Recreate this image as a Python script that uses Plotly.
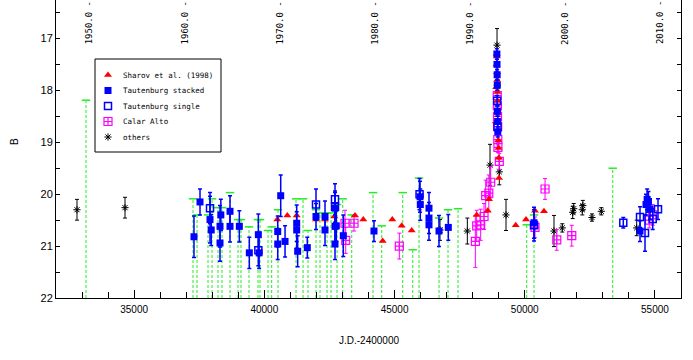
import plotly.graph_objects as go

# ---------------- data ----------------
# Upper limits (green dashed): JD-2400000, limiting B mag
lim_jd = [33152, 37261, 37415, 37837, 37991, 38221, 38375, 38682, 38989, 39104,
          39412, 39757, 39834, 40141, 40283, 40525, 41217, 41486, 41677, 41984,
          42138, 42407, 42561, 42791, 43010, 43356, 44174, 44508, 45314, 45699,
          45940, 46708, 47054, 47438, 50076, 50356, 53378]
lim_mag = [18.19, 20.09, 20.40, 20.40, 20.09, 20.26, 20.26, 19.97, 20.49, 20.49,
           20.63, 20.49, 20.49, 20.70, 20.63, 20.30, 20.09, 20.09, 20.70, 20.30,
           20.36, 20.36, 20.36, 20.20, 20.09, 20.40, 19.97, 20.61, 19.97, 21.07,
           19.69, 20.46, 20.30, 20.28, 20.59, 20.40, 19.50]

# Sharov et al. (1998)
sh_jd = [40499, 40883, 41243, 41984, 42330, 42688, 43482, 43800, 44545, 44914,
         45275, 45659, 45978, 48155, 48578, 48627,
         48890, 48905, 48915, 48922, 48928, 48935, 48942, 48950, 48958, 48966,
         48975, 48985, 48995, 49005, 49012,
         49652, 50048, 50394, 50739]
sh_mag = [20.49, 20.41, 20.41, 20.49, 20.49, 20.43, 20.41, 20.49, 20.90, 20.49,
          20.61, 20.70, 20.03, 20.40, 20.32, 20.10,
          18.60, 17.94, 17.50, 17.30, 17.35, 17.65, 17.80, 18.03, 18.20, 18.44,
          18.76, 18.96, 19.11, 19.30, 19.69,
          20.60, 20.49, 20.32, 20.33]

# Tautenburg stacked
ts_jd = [37299, 37530, 37914, 37960, 38298, 38298, 38330, 38682, 38682, 39040,
         39424, 39770, 39800, 40514, 40514, 40629, 40795, 41243, 41243, 41280,
         41650, 41984, 42330, 42330, 42714, 42714, 42714, 42764, 43032, 44211,
         45978, 45990, 46323, 46323, 46323, 46707, 47065,
         48930, 48935, 48940, 48945, 48952, 48960, 48965,
         50355, 54426, 54656, 54700, 54750, 54810]
ts_mag = [20.82, 20.15, 20.49, 20.69, 20.62, 20.94, 20.40, 20.33, 20.62, 20.62,
          21.13, 20.78, 21.13, 20.72, 20.96, 20.03, 20.91, 20.56, 20.69, 21.10,
          21.03, 20.43, 20.43, 20.69, 20.62, 20.96, 20.27, 20.61, 20.80, 20.71,
          20.05, 20.20, 20.27, 20.46, 20.59, 20.71, 20.64,
          17.30, 17.50, 17.70, 17.90, 18.40, 18.60, 18.80,
          20.55, 20.71, 20.20, 20.10, 20.15, 20.29]
ts_err = [0.40, 0.25, 0.45, 0.30, 0.40, 0.35, 0.30, 0.30, 0.30, 0.30,
          0.30, 0.40, 0.30, 0.30, 0.30, 0.40, 0.30, 0.35, 0.35, 0.30,
          0.20, 0.25, 0.30, 0.30, 0.35, 0.30, 0.30, 0.30, 0.40, 0.20,
          0.30, 0.30, 0.30, 0.30, 0.30, 0.30, 0.25,
          0.10, 0.10, 0.10, 0.10, 0.10, 0.10, 0.10,
          0.30, 0.20, 0.20, 0.20, 0.20, 0.20]

# Tautenburg single
tg_jd = [37914, 39770, 41984, 42714, 42714, 45960, 48940, 48955, 50356, 53784,
         54426, 54618, 54914, 55117]
tg_mag = [20.27, 21.08, 20.20, 20.10, 20.24, 20.00, 18.20, 18.70, 20.60, 20.55,
          20.44, 20.75, 20.48, 20.29]
tg_err = [0.30, 0.30, 0.30, 0.30, 0.30, 0.30, 0.10, 0.10, 0.30, 0.10,
          0.20, 0.35, 0.20, 0.20]

# Calar Alto
ca_jd = [43098, 43125, 43444, 45184, 48103, 48155, 48307, 48436, 48500, 48620,
         48692, 48945, 48950, 48955, 48960, 48965, 48970, 49023,
         50394, 50779, 51229, 51805, 54780, 54914]
ca_mag = [20.56, 20.89, 20.56, 21.00, 20.91, 20.61, 20.59, 20.43, 20.03, 19.98,
          19.77, 18.10, 18.30, 18.50, 18.70, 18.95, 19.10, 19.37,
          20.64, 19.90, 20.88, 20.80, 20.50, 20.40]
ca_err = [0.25, 0.25, 0.15, 0.25, 0.50, 0.30, 0.30, 0.25, 0.30, 0.35,
          0.30, 0.10, 0.10, 0.10, 0.10, 0.10, 0.10, 0.15,
          0.20, 0.20, 0.20, 0.20, 0.15, 0.20]

# others
ot_jd = [32806, 34650, 46746, 47795, 48666, 48935, 48948, 48960, 49023, 49280,
         51123, 51442, 51841, 51880, 52210, 52230, 52582, 52940, 54299]
ot_mag = [20.30, 20.26, 20.69, 20.71, 19.44, 17.13, 17.90, 18.60, 19.57, 20.40,
          20.71, 20.65, 20.35, 20.28, 20.30, 20.22, 20.45, 20.33, 20.65]
ot_err = [0.20, 0.20, 0.20, 0.25, 0.40, 0.32, 0.10, 0.10, 0.25, 0.30,
          0.30, 0.08, 0.12, 0.10, 0.10, 0.10, 0.07, 0.07, 0.15]

# legend labels (order as in the reference legend)
legend_labels = ["Sharov et al. (1998)", "Tautenburg stacked", "Tautenburg single",
                 "Calar Alto", "others"]

# top axis: calendar years and their JD-2400000
year_labels = ["1950.0", "1960.0", "1970.0", "1980.0", "1990.0", "2000.0", "2010.0"]
year_jd = [33282.5, 36934.5, 40587.5, 44239.5, 47892.5, 51544.5, 55197.5]

x_ticks = [35000, 40000, 45000, 50000, 55000]
y_ticks = [17, 18, 19, 20, 21, 22]

# ---------------- figure ----------------
GREEN = "#22ee22"
BLUE = "#0000ff"
RED = "#ff0000"
MAG = "#ff00ff"
MONO = "DejaVu Sans Mono"
NARROW = "Liberation Sans Narrow, Arial Narrow, sans-serif"

styles = [
    dict(symbol="triangle-up", size=7, color=RED),
    dict(symbol="square", size=7, color=BLUE),
    dict(symbol="square-open", size=7, color=BLUE, line=dict(color=BLUE, width=1.5)),
    dict(symbol="square-cross-open", size=8, color=MAG, line=dict(color=MAG, width=1.2)),
    dict(symbol="asterisk-open", size=6, color="black", line=dict(color="black", width=1)),
]

fig = go.Figure()

lx, ly = [], []
for j, m in zip(lim_jd, lim_mag):
    lx += [j, j, None]
    ly += [22, m, None]
fig.add_trace(go.Scatter(x=lx, y=ly, mode="lines",
                         line=dict(color=GREEN, width=1, dash="3px,2px"),
                         showlegend=False, hoverinfo="skip"))
fig.add_trace(go.Scatter(x=lim_jd, y=lim_mag, mode="markers",
                         marker=dict(symbol="line-ew-open", size=6, color=GREEN,
                                     line=dict(color=GREEN, width=1.5)),
                         showlegend=False, hoverinfo="skip"))

series = [
    (sh_jd, sh_mag, None, RED, 1),
    (ts_jd, ts_mag, ts_err, BLUE, 1.5),
    (tg_jd, tg_mag, tg_err, BLUE, 1.5),
    (ca_jd, ca_mag, ca_err, MAG, 1),
    (ot_jd, ot_mag, ot_err, "black", 1),
]
# draw order: others, Calar Alto, Sharov, Tautenburg single, Tautenburg stacked
draw_order = [4, 3, 0, 2, 1]
for i in draw_order:
    xs, ys, es, col, th = series[i]
    kw = {}
    if es is not None:
        kw["error_y"] = dict(type="data", array=es, color=col, thickness=th, width=2)
    fig.add_trace(go.Scatter(x=xs, y=ys, mode="markers", name=legend_labels[i],
                             marker=styles[i], showlegend=False, **kw))

# hand-drawn legend on a pixel-unit overlay axis pair (x2, y3)
leg_x_marker = 108
leg_x_text = 121
leg_y = [75, 90.5, 106, 121.5, 137]
for st, yy in zip(styles, leg_y):
    fig.add_trace(go.Scatter(x=[leg_x_marker], y=[yy], xaxis="x2", yaxis="y3",
                             mode="markers", marker=st, showlegend=False,
                             hoverinfo="skip"))
# carrier for right-hand axis
fig.add_trace(go.Scatter(x=[None], y=[None], yaxis="y2", showlegend=False,
                         hoverinfo="skip"))

shapes = [dict(type="rect", xref="x2", yref="y3", x0=95, x1=221, y0=59, y1=152,
               line=dict(color="black", width=1), fillcolor="white", layer="below")]

annotations = []
for lab, yy in zip(legend_labels, leg_y):
    annotations.append(dict(x=leg_x_text, xref="x2", y=yy, yref="y3", text=lab,
                            xanchor="left", yanchor="middle", showarrow=False,
                            font=dict(family=MONO, size=7.5, color="black")))
for lab, j in zip(year_labels, year_jd):
    annotations.append(dict(x=j, xref="x", y=0.923, yref="paper", text=lab + " -",
                            textangle=-90, showarrow=False, xanchor="center",
                            yanchor="middle",
                            font=dict(family=MONO, size=9, color="black")))
annotations.append(dict(x=0.5, xref="paper", y=-0.141, yref="paper", text="J.D.-2400000",
                        showarrow=False, xanchor="center", yanchor="middle",
                        font=dict(family=NARROW, size=10, color="black")))
annotations.append(dict(x=-0.0656, xref="paper", y=0.5235, yref="paper", text="B",
                        textangle=-90, showarrow=False, xanchor="center",
                        yanchor="middle",
                        font=dict(family=NARROW, size=10, color="black")))

fig.update_layout(
    width=693, height=360,
    margin=dict(l=56, r=12, t=0, b=62),
    paper_bgcolor="white", plot_bgcolor="white",
    showlegend=False,
    shapes=shapes,
    annotations=annotations,
    xaxis=dict(range=[32000, 56000], showgrid=False, zeroline=False,
               showline=True, linecolor="black", linewidth=1, mirror=False,
               ticks="inside", ticklen=8, tickcolor="black",
               tickvals=x_ticks, ticktext=[str(v) for v in x_ticks],
               minor=dict(dtick=1000, tick0=32000, ticks="inside", ticklen=6,
                          tickcolor="black", showgrid=False),
               tickfont=dict(family=NARROW, size=10, color="black"),
               ticklabelstandoff=2, automargin=False),
    xaxis2=dict(range=[56, 681], overlaying="x", visible=False, anchor="y3",
                fixedrange=True),
    yaxis=dict(range=[22, 16.26], showgrid=False, zeroline=False,
               showline=True, linecolor="black", linewidth=1, mirror=False,
               ticks="inside", ticklen=4, tickcolor="black",
               tickvals=y_ticks, ticktext=[str(v) for v in y_ticks],
               minor=dict(dtick=0.5, tick0=16, ticks="inside", ticklen=4,
                          tickcolor="black", showgrid=False),
               tickfont=dict(family=NARROW, size=11, color="black"),
               automargin=False),
    yaxis2=dict(range=[22, 16.26], overlaying="y", side="right", matches="y",
                showgrid=False, zeroline=False, showline=True, linecolor="black",
                linewidth=1, ticks="inside", ticklen=4, tickcolor="black",
                tickvals=y_ticks, showticklabels=False,
                minor=dict(dtick=0.5, tick0=16, ticks="inside", ticklen=4,
                           tickcolor="black", showgrid=False),
                automargin=False),
    yaxis3=dict(range=[298, 0], overlaying="y", visible=False, anchor="x2",
                fixedrange=True),
)

fig.write_html("out.html", config={"displayModeBar": False},
               post_script="document.body.style.margin='0px';")
